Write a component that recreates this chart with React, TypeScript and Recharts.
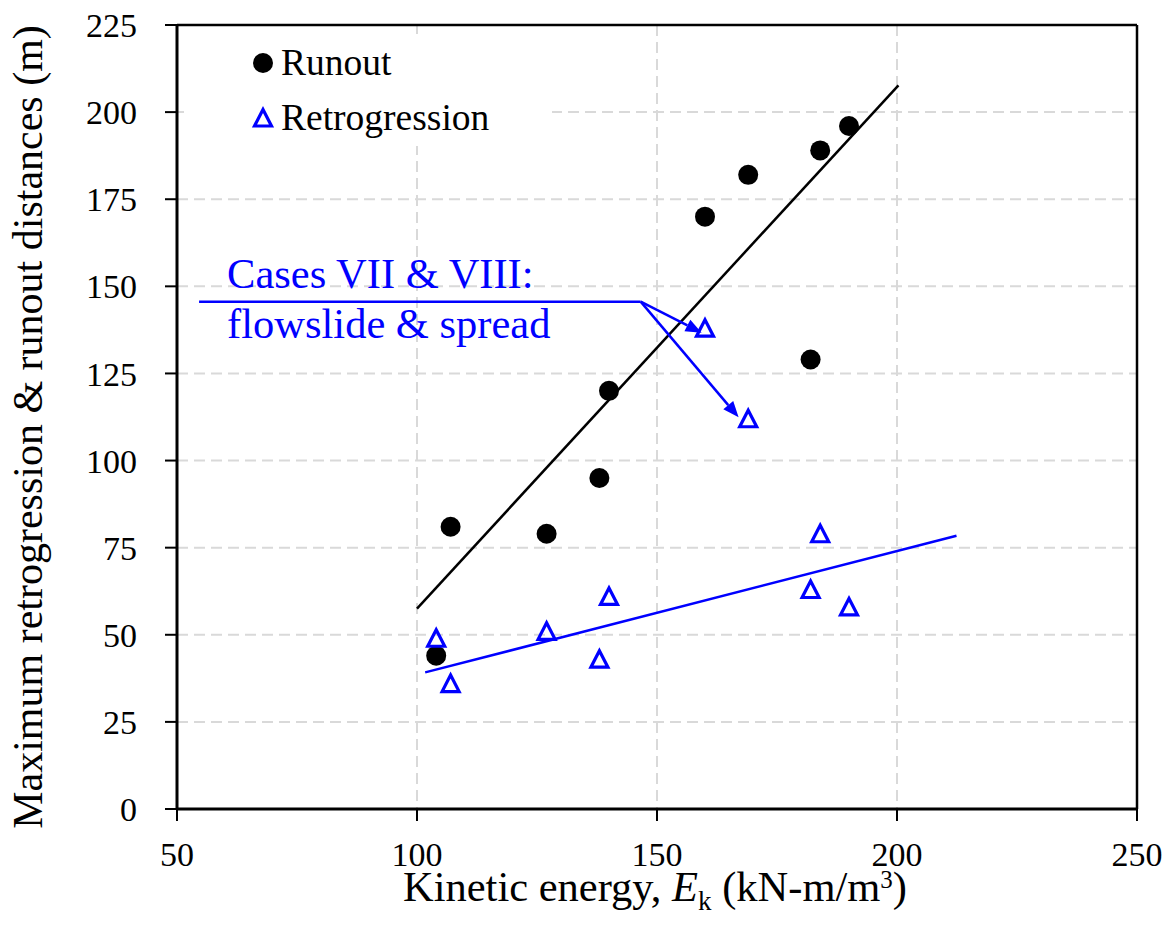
import React from 'react';
import {
  ComposedChart,
  Scatter,
  XAxis,
  YAxis,
  CartesianGrid,
  ReferenceLine,
} from 'recharts';

// kinetic energy (x) vs distance (y)
const runoutX = [104, 107, 127, 138, 140, 160, 169, 182, 184, 190];
const runoutY = [44, 81, 79, 95, 120, 170, 182, 129, 189, 196];
const retroX = [104, 107, 127, 138, 140, 160, 169, 182, 184, 190];
const retroY = [49, 36, 51, 43, 61, 138, 112, 63, 79, 58];

// linear trend end points
const runoutFitX = [100, 200.3];
const runoutFitY = [57.5, 207.7];
const retroFitX = [101.7, 212.4];
const retroFitY = [39.2, 78.4];

// annotation leader + arrows
const noteX = [54.6, 146.6];
const noteY = 145.6;
const arrowTipX = [159.3, 167];
const arrowTipY = [136.7, 112.4];
const noteLines = ['Cases VII & VIII:', 'flowslide & spread'];

const xTicks = [50, 100, 150, 200, 250];
const yTicks = [0, 25, 50, 75, 100, 125, 150, 175, 200, 225];

const runout = runoutX.map((x, i) => ({ x, y: runoutY[i] }));
const retro = retroX.map((x, i) => ({ x, y: retroY[i] }));

const FONT = "'Liberation Serif', 'DejaVu Serif', serif";
const BLUE = '#0000ff';
const serif = { fontFamily: FONT };

const Dot = (p: any) => <circle cx={p.cx} cy={p.cy} r={10} fill="#000" />;

const Tri = (p: any) => (
  <polygon
    points={`${p.cx},${p.cy - 8.5} ${p.cx - 8.5},${p.cy + 8} ${p.cx + 8.5},${p.cy + 8}`}
    fill="none"
    stroke={BLUE}
    strokeWidth={3.2}
  />
);

const Arrow = (p: any) => {
  const { x1, y1, x2, y2 } = p;
  const a = Math.atan2(y2 - y1, x2 - x1);
  const len = 16;
  const hw = 6.5;
  const bx = x2 - len * Math.cos(a);
  const by = y2 - len * Math.sin(a);
  const px = -Math.sin(a) * hw;
  const py = Math.cos(a) * hw;
  return (
    <g>
      <line x1={x1} y1={y1} x2={bx} y2={by} stroke={BLUE} strokeWidth={2.5} />
      <polygon points={`${x2},${y2} ${bx + px},${by + py} ${bx - px},${by - py}`} fill={BLUE} />
    </g>
  );
};

const NoteLine = (p: any) => {
  const { x1, y1, x2, y2 } = p;
  return (
    <g>
      <line x1={x1} y1={y1} x2={x2} y2={y2} stroke={BLUE} strokeWidth={2.5} />
      <text x={x1 + 28} y={y1 - 14} style={serif} fontSize={42.5} fill={BLUE}>
        {noteLines[0]}
      </text>
      <text x={x1 + 28} y={y1 + 36} style={serif} fontSize={42.5} fill={BLUE}>
        {noteLines[1]}
      </text>
    </g>
  );
};

const Legendish = () => (
  <g>
    <rect x={184} y={34} width={368} height={112} fill="#fff" />
    <circle cx={263} cy={63} r={10} fill="#000" />
    <text x={281} y={75} style={serif} fontSize={37.5}>Runout</text>
    <polygon points="263,109.5 254.5,126 271.5,126" fill="none" stroke={BLUE} strokeWidth={3.2} />
    <text x={281} y={130} style={serif} fontSize={37.5}>Retrogression</text>
  </g>
);

const Titles = () => (
  <g fill="#000">
    <text x={655} y={901} textAnchor="middle" style={serif} fontSize={42.5}>
      Kinetic energy, <tspan fontStyle="italic">E</tspan>
      <tspan fontSize={27} dy={9}>k</tspan>
      <tspan dy={-9}> (kN-m/m</tspan>
      <tspan fontSize={25} dy={-13}>3</tspan>
      <tspan dy={13}>)</tspan>
    </text>
    <text transform="translate(42,427) rotate(-90)" textAnchor="middle" style={serif} fontSize={42}>
      Maximum retrogression &amp; runout distances (m)
    </text>
  </g>
);

const tickStyle = { style: serif, fontSize: 34, fill: '#000' };

export default function App() {
  return (
    <div style={{ position: 'absolute', left: 0, top: 0, background: '#fff', fontFamily: FONT }}>
      <ComposedChart width={1174} height={937} margin={{ top: 25, right: 37, left: 0, bottom: 0 }} style={serif}>
        <CartesianGrid stroke="#d9d9d9" strokeWidth={2} strokeDasharray="11 6" />
        <XAxis
          type="number"
          dataKey="x"
          domain={[50, 250]}
          ticks={xTicks}
          height={128}
          tick={tickStyle}
          tickSize={12}
          tickMargin={21}
          axisLine={{ stroke: '#000', strokeWidth: 3 }}
          tickLine={{ stroke: '#000', strokeWidth: 2 }}
          allowDataOverflow
        />
        <YAxis
          type="number"
          dataKey="y"
          domain={[0, 225]}
          ticks={yTicks}
          width={177}
          tick={tickStyle}
          tickSize={12}
          tickMargin={28}
          axisLine={{ stroke: '#000', strokeWidth: 3 }}
          tickLine={{ stroke: '#000', strokeWidth: 2 }}
          allowDataOverflow
        />
        <ReferenceLine y={225} stroke="#000" strokeWidth={2.5} />
        <ReferenceLine x={250} stroke="#000" strokeWidth={2.5} />
        <ReferenceLine
          segment={[
            { x: runoutFitX[0], y: runoutFitY[0] },
            { x: runoutFitX[1], y: runoutFitY[1] },
          ]}
          stroke="#000"
          strokeWidth={2.5}
        />
        <ReferenceLine
          segment={[
            { x: retroFitX[0], y: retroFitY[0] },
            { x: retroFitX[1], y: retroFitY[1] },
          ]}
          stroke={BLUE}
          strokeWidth={2.5}
        />
        <ReferenceLine
          segment={[
            { x: noteX[0], y: noteY },
            { x: noteX[1], y: noteY },
          ]}
          shape={NoteLine}
        />
        {arrowTipX.map((tx, i) => (
          <ReferenceLine
            key={i}
            segment={[
              { x: noteX[1], y: noteY },
              { x: tx, y: arrowTipY[i] },
            ]}
            shape={Arrow}
          />
        ))}
        <Legendish />
        <Scatter name="Runout" data={runout} shape={Dot} isAnimationActive={false} />
        <Scatter name="Retrogression" data={retro} shape={Tri} isAnimationActive={false} />
        <Titles />
      </ComposedChart>
    </div>
  );
}
